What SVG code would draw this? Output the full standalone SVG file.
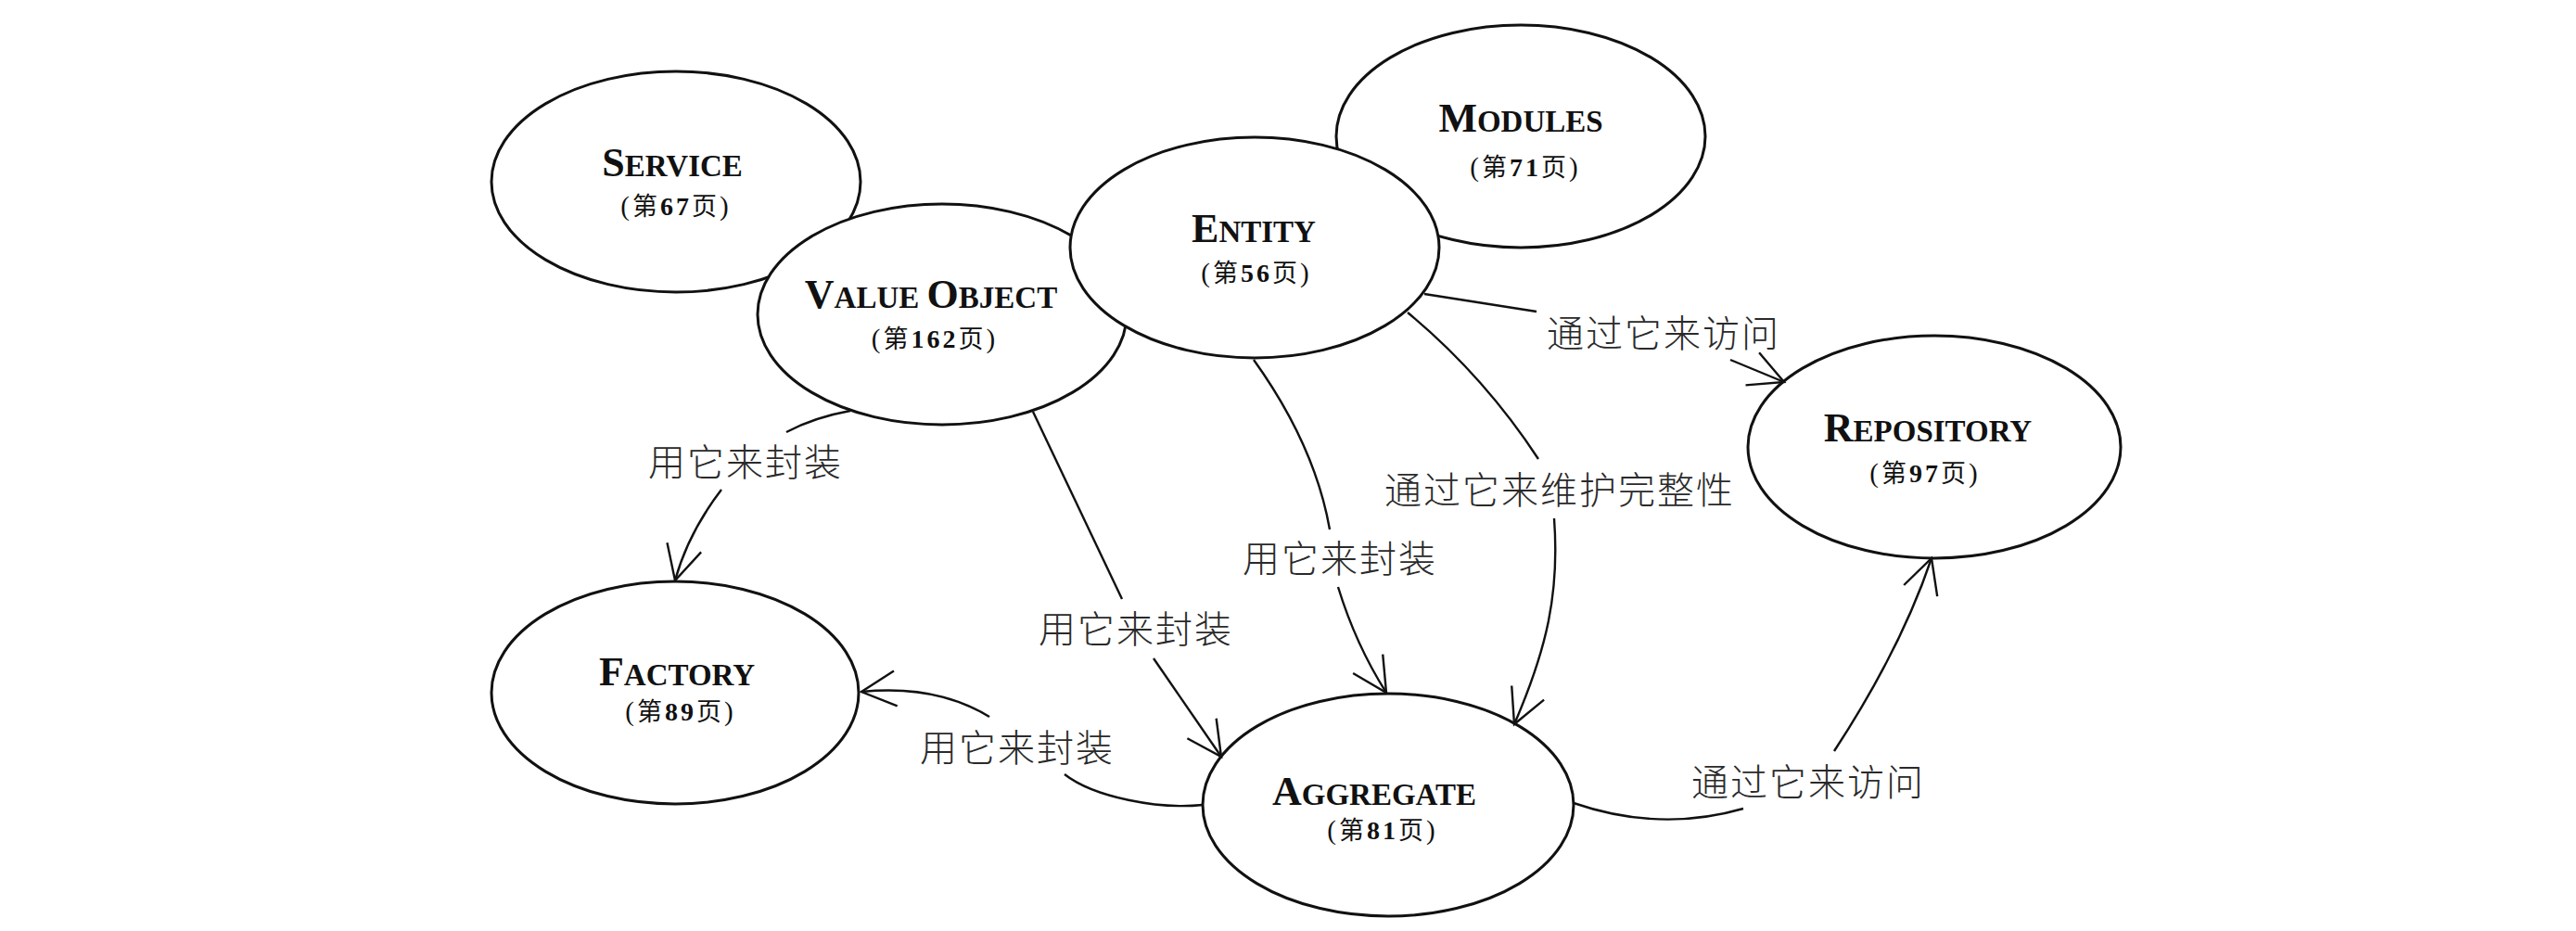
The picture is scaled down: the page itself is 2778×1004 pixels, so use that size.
<svg xmlns="http://www.w3.org/2000/svg" width="2778" height="1004" viewBox="0 0 2778 1004">
<style>
.node ellipse{fill:#fff;stroke:#111;stroke-width:3}
.t{font-family:"Liberation Serif","Times New Roman",serif;font-weight:bold;fill:#111;text-anchor:middle}
.big{font-size:44px}
.sm{font-size:33px}
.pg{font-family:"Liberation Serif","Noto Sans CJK SC",serif;font-size:29px;fill:#111;text-anchor:middle;letter-spacing:3px}
.cjk{font-family:"Noto Sans CJK SC",sans-serif;font-size:27px}
.num{font-weight:bold;font-size:28px}
.edges path{fill:none;stroke:#111;stroke-width:2.4}
.lbl{font-family:"Noto Sans CJK SC",sans-serif;font-size:40px;font-weight:300;fill:#2a2a2a;letter-spacing:2px}
</style>
<defs>
<marker id="arr" markerUnits="userSpaceOnUse" markerWidth="50" markerHeight="50" viewBox="-45 -25 50 50" refX="0" refY="0" orient="auto" overflow="visible">
<path d="M-37,-19 L0,0 L-37,19" fill="none" stroke="#111" stroke-width="2.4"/>
</marker>
</defs>
<rect width="2778" height="1004" fill="#fff"/>

<g id="service" class="node">
<ellipse cx="729" cy="196" rx="199" ry="119"/>
<text class="t" x="725" y="190"><tspan class="big">S</tspan><tspan class="sm">ERVICE</tspan></text>
<text class="pg" x="729" y="232">(<tspan class="cjk">第</tspan><tspan class="num">67</tspan><tspan class="cjk">页</tspan>)</text>
</g>
<g id="modules" class="node">
<ellipse cx="1640" cy="147" rx="199" ry="120"/>
<text class="t" x="1640" y="142"><tspan class="big">M</tspan><tspan class="sm">ODULES</tspan></text>
<text class="pg" x="1645" y="190">(<tspan class="cjk">第</tspan><tspan class="num">71</tspan><tspan class="cjk">页</tspan>)</text>
</g>
<g id="value-object" class="node">
<ellipse cx="1016" cy="339" rx="199" ry="119"/>
<text class="t" x="1004" y="332"><tspan class="big">V</tspan><tspan class="sm">ALUE </tspan><tspan class="big">O</tspan><tspan class="sm">BJECT</tspan></text>
<text class="pg" x="1008" y="375">(<tspan class="cjk">第</tspan><tspan class="num">162</tspan><tspan class="cjk">页</tspan>)</text>
</g>
<g id="entity" class="node">
<ellipse cx="1353" cy="267" rx="199" ry="119"/>
<text class="t" x="1352" y="261"><tspan class="big">E</tspan><tspan class="sm">NTITY</tspan></text>
<text class="pg" x="1355" y="304">(<tspan class="cjk">第</tspan><tspan class="num">56</tspan><tspan class="cjk">页</tspan>)</text>
</g>
<g id="factory" class="node">
<ellipse cx="728" cy="747" rx="198" ry="120"/>
<text class="t" x="730" y="739"><tspan class="big">F</tspan><tspan class="sm">ACTORY</tspan></text>
<text class="pg" x="734" y="777">(<tspan class="cjk">第</tspan><tspan class="num">89</tspan><tspan class="cjk">页</tspan>)</text>
</g>
<g id="aggregate" class="node">
<ellipse cx="1497" cy="868" rx="200" ry="120"/>
<text class="t" x="1482" y="868"><tspan class="big">A</tspan><tspan class="sm">GGREGATE</tspan></text>
<text class="pg" x="1491" y="905">(<tspan class="cjk">第</tspan><tspan class="num">81</tspan><tspan class="cjk">页</tspan>)</text>
</g>
<g id="repository" class="node">
<ellipse cx="2086" cy="482" rx="201" ry="120"/>
<text class="t" x="2079" y="476"><tspan class="big">R</tspan><tspan class="sm">EPOSITORY</tspan></text>
<text class="pg" x="2076" y="520">(<tspan class="cjk">第</tspan><tspan class="num">97</tspan><tspan class="cjk">页</tspan>)</text>
</g>

<g id="connectors" class="edges">
<!-- VALUE OBJECT -> FACTORY -->
<path d="M917,443 Q878,450 848,466"/>
<path d="M778,528 Q742,575 728,626" marker-end="url(#arr)"/>
<text class="lbl" x="699" y="513">用它来封装</text>
<!-- VALUE OBJECT -> AGGREGATE -->
<path d="M1114,444 L1210,646"/>
<path d="M1244,710 L1317,816" marker-end="url(#arr)"/>
<text class="lbl" x="1120" y="693">用它来封装</text>
<!-- ENTITY -> AGGREGATE (encapsulate) -->
<path d="M1352,388 Q1418,480 1434,571"/>
<path d="M1443,633 Q1462,695 1495,747" marker-end="url(#arr)"/>
<text class="lbl" x="1340" y="617">用它来封装</text>
<!-- ENTITY -> AGGREGATE (integrity) -->
<path d="M1518,337 Q1600,405 1659,495"/>
<path d="M1676,559 C1682,640 1668,700 1633,781" marker-end="url(#arr)"/>
<text class="lbl" x="1493" y="543">通过它来维护完整性</text>
<!-- ENTITY -> REPOSITORY -->
<path d="M1536,317 L1657,336"/>
<path d="M1866,388 L1924,412" marker-end="url(#arr)"/>
<text class="lbl" x="1668" y="374">通过它来访问</text>
<!-- AGGREGATE -> FACTORY -->
<path d="M1297,868 C1250,873 1180,860 1148,835"/>
<path d="M1067,773 Q1010,738 929,746" marker-end="url(#arr)"/>
<text class="lbl" x="992" y="821">用它来封装</text>
<!-- AGGREGATE -> REPOSITORY -->
<path d="M1697,866 Q1790,898 1880,872"/>
<path d="M1978,810 Q2050,700 2083,602" marker-end="url(#arr)"/>
<text class="lbl" x="1824" y="858">通过它来访问</text>
</g>
</svg>
